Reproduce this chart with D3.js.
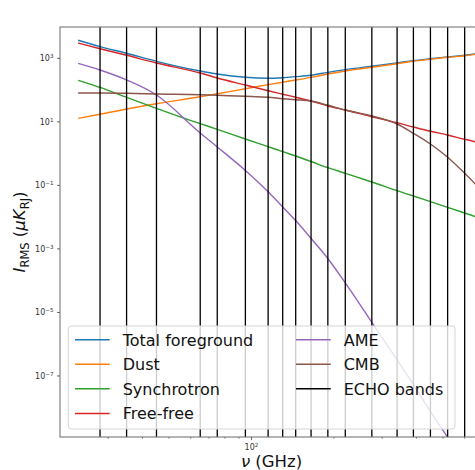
<!doctype html>
<html>
<head>
<meta charset="UTF-8" />
<script src="https://cdn.jsdelivr.net/npm/d3@7"></script>
<style>
  body { margin: 0; background: #fff; }
  svg { display: block; font-family: "DejaVu Sans", sans-serif; }
</style>
</head>
<body>
<svg id="chart" width="475" height="470"></svg>
<script>
// frequencies (GHz) where each foreground component is sampled
const freqs = [23.3, 28, 35, 45, 65, 75, 95, 115, 130, 145, 165, 190, 220, 275, 340, 390, 450, 520, 600, 700];

// RMS brightness per component (uK_RJ)
const totalFg   = [3690, 2318, 1437, 804, 398, 320, 252, 235, 245, 264, 292, 362, 441, 564, 716, 840, 964, 1107, 1243, 1468];
const dust      = [12.9, 17.3, 25.4, 37.2, 61.8, 76.9, 110, 148, 177, 207, 252, 320, 398, 521, 676, 804, 930, 1075, 1207, 1437];
const synchro   = [203, 122, 59.2, 26.7, 8.74, 5.82, 2.88, 1.65, 1.15, 0.841, 0.565, 0.36, 0.24, 0.128, 0.068, 0.0463, 0.0306, 0.0204, 0.0135, 0.0085];
const freeFree  = [3030, 2005, 1243, 712, 345, 240, 144, 95.5, 74.1, 59.2, 45.3, 31.5, 23.6, 14.5, 9.4, 6.88, 5.04, 3.85, 2.82, 2.08];
const ame       = [696, 428, 208, 70, 4.45, 1.62, 0.294, 0.0628, 0.021, 0.0078, 0.00213, 5.0e-4, 8.5e-5, 4.9e-6, 3.2e-7, 5.4e-8, 7.6e-9, 1.16e-9, 1.5e-10, 1.8e-11];
const cmb       = [80.9, 80.9, 79.1, 75.2, 71.5, 68.4, 63.7, 59.2, 53.5, 49.8, 45.3, 33.2, 23.6, 15.3, 8.55, 4.36, 2.01, 0.766, 0.24, 0.062];

// ECHO band centres (GHz)
const echoBands = [28, 35, 45, 65, 75, 95, 115, 130, 145, 165, 190, 220, 275, 340, 390, 450, 520, 600];

const yTicks = [3, 1, -1, -3, -5, -7];
const xMajor = [100];
const xMinor = [30, 40, 50, 60, 70, 80, 90, 200, 300, 400, 500, 600];

const series = [
  { name: "Total foreground", color: "#1f77b4", values: totalFg },
  { name: "Dust",             color: "#ff7f0e", values: dust },
  { name: "Synchrotron",      color: "#2ca02c", values: synchro },
  { name: "Free-free",        color: "#d62728", values: freeFree },
  { name: "AME",              color: "#9467bd", values: ame },
  { name: "CMB",              color: "#8c564b", values: cmb }
];

const box = { left: 60, right: 483, top: 27, bottom: 437 };

const x = d3.scaleLog().domain([20, 700]).range([box.left, box.right]);
const y = d3.scaleLog().domain([1.2e-9, 9665]).range([box.bottom, box.top]);

const svg = d3.select("#chart");

svg.append("defs").append("clipPath").attr("id", "plotArea")
  .append("rect")
  .attr("x", box.left).attr("y", box.top)
  .attr("width", box.right - box.left).attr("height", box.bottom - box.top);

const plot = svg.append("g").attr("clip-path", "url(#plotArea)");

const line = d3.line()
  .x(d => x(d[0]))
  .y(d => y(d[1]))
  .curve(d3.curveMonotoneX);

series.forEach(s => {
  plot.append("path")
    .datum(freqs.map((f, i) => [f, s.values[i]]))
    .attr("fill", "none")
    .attr("stroke", s.color)
    .attr("stroke-width", 1.4)
    .attr("d", line);
});

// vertical band markers
plot.selectAll(".band")
  .data(echoBands)
  .enter().append("line")
  .attr("class", "band")
  .attr("x1", d => x(d)).attr("x2", d => x(d))
  .attr("y1", box.top).attr("y2", box.bottom)
  .attr("stroke", "#000")
  .attr("stroke-width", 1.3);

// frame
svg.append("rect")
  .attr("x", box.left).attr("y", box.top)
  .attr("width", box.right - box.left).attr("height", box.bottom - box.top)
  .attr("fill", "none")
  .attr("stroke", "#777")
  .attr("stroke-width", 1.1);

// y ticks
yTicks.forEach(e => {
  const yy = y(Math.pow(10, e));
  svg.append("line")
    .attr("x1", box.left - 3).attr("x2", box.left)
    .attr("y1", yy).attr("y2", yy)
    .attr("stroke", "#555").attr("stroke-width", 0.9);
  const t = svg.append("text")
    .attr("x", 53.5).attr("y", yy + 3)
    .attr("text-anchor", "end")
    .attr("font-size", 8)
    .attr("fill", "#333");
  t.append("tspan").text("10");
  t.append("tspan").attr("dy", -3.3).attr("font-size", 5.6)
    .text(e < 0 ? "\u2212" + (-e) : String(e));
});

// x ticks
xMinor.forEach(v => {
  svg.append("line")
    .attr("x1", x(v)).attr("x2", x(v))
    .attr("y1", box.bottom).attr("y2", box.bottom + 1.8)
    .attr("stroke", "#555").attr("stroke-width", 0.7);
});
xMajor.forEach(v => {
  svg.append("line")
    .attr("x1", x(v)).attr("x2", x(v))
    .attr("y1", box.bottom).attr("y2", box.bottom + 3)
    .attr("stroke", "#555").attr("stroke-width", 0.9);
  const t = svg.append("text")
    .attr("x", x(v)).attr("y", 450)
    .attr("text-anchor", "middle")
    .attr("font-size", 8)
    .attr("fill", "#333");
  t.append("tspan").text("10");
  t.append("tspan").attr("dy", -3.3).attr("font-size", 5.6).text(Math.log10(v));
});

// axis titles
const xl = svg.append("text")
  .attr("x", (box.left + box.right) / 2).attr("y", 466.5)
  .attr("text-anchor", "middle")
  .attr("font-size", 16.5)
  .attr("fill", "#111");
xl.append("tspan").attr("font-style", "italic").text("\u03bd");
xl.append("tspan").text(" (GHz)");

const yl = svg.append("text")
  .attr("transform", "translate(25," + ((box.top + box.bottom) / 2) + ") rotate(-90)")
  .attr("text-anchor", "middle")
  .attr("font-size", 16.5)
  .attr("fill", "#111");
yl.append("tspan").attr("font-style", "italic").text("I");
yl.append("tspan").attr("font-size", 11.5).attr("dy", 4.3).text("RMS");
yl.append("tspan").attr("dy", -4.3).text(" (");
yl.append("tspan").attr("font-style", "italic").text("\u03bcK");
yl.append("tspan").attr("font-size", 11.5).attr("dy", 4.3).text("RJ");
yl.append("tspan").attr("dy", -4.3).text(")");

// legend, two columns
const legendItems = series.map(s => ({ name: s.name, color: s.color }))
  .concat([{ name: "ECHO bands", color: "#000" }]);

const legend = svg.append("g");
legend.append("rect")
  .attr("x", 68.3).attr("y", 326)
  .attr("width", 386.7).attr("height", 103)
  .attr("rx", 3)
  .attr("fill", "#fff").attr("fill-opacity", 0.8)
  .attr("stroke", "#d6d6d6").attr("stroke-width", 1);

const colX = [75, 296];
const rowY = [339.7, 364.2, 388.8, 413.5];

legendItems.forEach((d, i) => {
  const col = i < 4 ? 0 : 1;
  const row = i < 4 ? i : i - 4;
  const lx = colX[col], ly = rowY[row];
  legend.append("line")
    .attr("x1", lx).attr("x2", lx + 34.7)
    .attr("y1", ly).attr("y2", ly)
    .attr("stroke", d.color).attr("stroke-width", 1.4);
  legend.append("text")
    .attr("x", lx + 47.7).attr("y", ly + 5.9)
    .attr("font-size", 16)
    .attr("fill", "#111")
    .text(d.name);
});
</script>
</body>
</html>
